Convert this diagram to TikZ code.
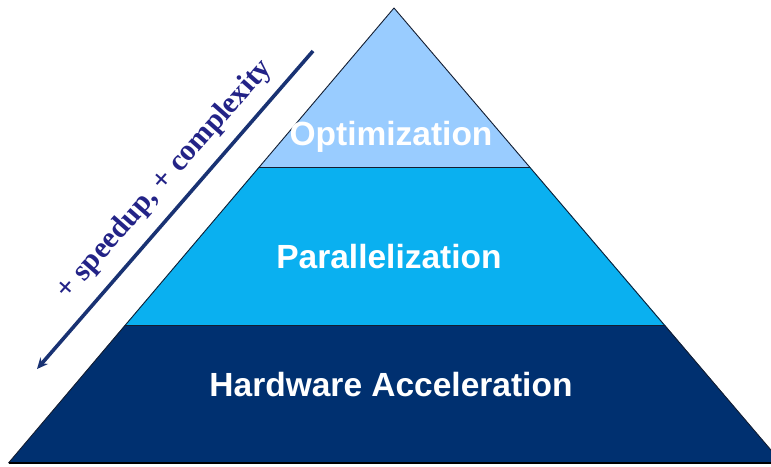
\documentclass[tikz,border=0pt]{standalone}
\usepackage{fontspec}
\setmainfont{Liberation Serif}
\setsansfont{Liberation Sans}
\usetikzlibrary{arrows.meta}
\definecolor{tierTop}{RGB}{153,204,255}
\definecolor{tierMid}{RGB}{10,176,240}
\definecolor{tierBase}{RGB}{0,48,112}
\definecolor{edgeDark}{RGB}{20,30,50}
\definecolor{arrowBlue}{RGB}{25,50,115}
\definecolor{noteBlue}{RGB}{35,35,135}
\tikzset{
  tierlabel/.style={text=white, font=\sffamily\bfseries\fontsize{33.5}{40}\selectfont, inner sep=0pt},
  tieredge/.style={draw=edgeDark, line width=0.9pt, line join=round},
  trend/.style={draw=arrowBlue, line width=3.6pt, -{Stealth[length=11pt,width=10pt]}},
  trendlabel/.style={text=noteBlue, font=\rmfamily\bfseries\fontsize{30}{36}\selectfont, inner sep=0pt}
}
\begin{document}
\begin{tikzpicture}[x=1pt,y=-1pt]
\useasboundingbox (0,0) rectangle (771,466);
\clip (0,0) rectangle (771,466);
% pyramid corners
\coordinate (apex) at (394,8);
\coordinate (l1) at (259,167);
\coordinate (r1) at (530,167);
\coordinate (l2) at (125,325);
\coordinate (r2) at (665,325);
\coordinate (l3) at (8.5,463);
\coordinate (r3) at (782,463);
% tiers
\fill[tierTop] (apex) -- (l1) -- (r1) -- cycle;
\fill[tierMid] (l1) -- (l2) -- (r2) -- (r1) -- cycle;
\fill[tierBase] (l2) -- (l3) -- (r3) -- (r2) -- cycle;
\draw[tieredge] (l1) -- (r1);
\draw[tieredge] (l2) -- (r2);
\draw[tieredge] (l3) -- (apex) -- (r3);
\draw[draw=black, line width=1.6pt] (l3) -- (r3);
% tier labels
\node[tierlabel] (opt) at (391,137) {Optimization};
\node[tierlabel] (par) at (389,257) {Parallelization};
\node[tierlabel] (hw) at (391,385) {Hardware Acceleration};
% trend arrow with its label
\coordinate (trendTop) at (313,51);
\coordinate (trendEnd) at (37,369);
\draw[trend] (trendTop) -- (trendEnd);
\node[trendlabel, rotate=48.5] (trendText) at (165,180) {+ speedup, + complexity};
\end{tikzpicture}
\end{document}
